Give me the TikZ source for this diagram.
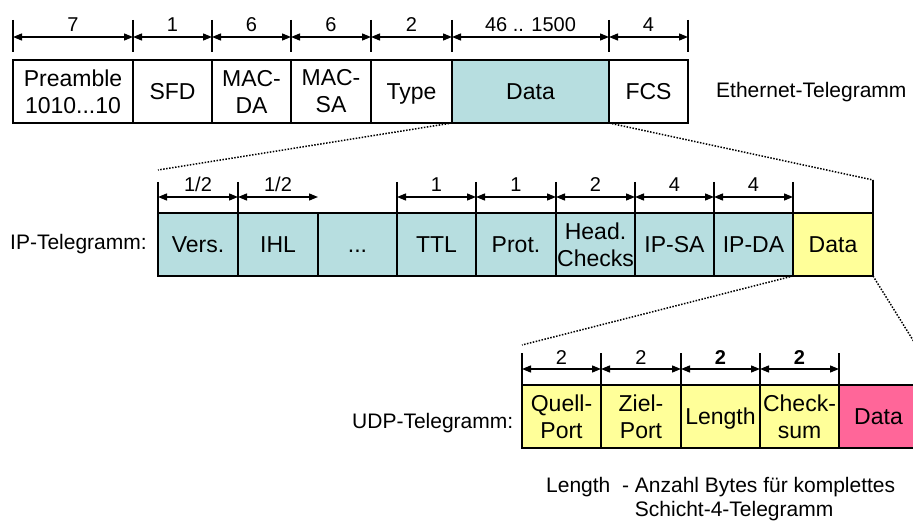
\documentclass[tikz,border=0pt]{standalone}
\usepackage{fontspec}
\setmainfont{Liberation Sans}
\usetikzlibrary{arrows.meta}

\definecolor{ipblue}{RGB}{183,222,224}
\definecolor{udpyellow}{RGB}{255,255,153}
\definecolor{datapink}{RGB}{255,102,153}

\tikzset{
  field/.style={draw=black, line width=2pt, anchor=north west, inner sep=0pt,
    outer sep=0pt, minimum height=63pt, align=center,
    font=\fontsize{23}{27}\selectfont},
  oneline/.style={text height=16.5pt, text depth=0pt},
  tick/.style={line width=1.8pt},
  dim/.style={line width=1.3pt,
    {Triangle[length=9pt,width=7pt]}-{Triangle[length=9pt,width=7pt]}},
  size/.style={anchor=base, yshift=5pt, inner sep=0pt,
    font=\fontsize{20}{24}\selectfont},
  caption/.style={anchor=base west, inner sep=0pt,
    font=\fontsize{21}{24}\selectfont},
  zoomline/.style={line width=1.5pt, dash pattern=on 1.5pt off 1.5pt},
}

\begin{document}
\begin{tikzpicture}[x=1pt,y=-1pt]
\useasboundingbox (0,0) rectangle (913,521);
\clip (0,0) rectangle (913,521);

% ---------------- Ethernet frame ----------------
\node[field, minimum width=120pt]          (pre)  at (13,60)  {Preamble\\1010...10};
\node[field, oneline, minimum width=79pt]  (sfd)  at (133,60) {SFD};
\node[field, minimum width=79pt]           (mda)  at (212,60) {MAC-\\DA};
\node[field, minimum width=80pt]           (msa)  at (291,60) {MAC-\\SA};
\node[field, oneline, minimum width=81pt]  (type) at (371,60) {Type};
\node[field, oneline, minimum width=157pt, fill=ipblue] (eth-data) at (452,60) {Data};
\node[field, oneline, minimum width=79pt]  (fcs)  at (609,60) {FCS};
\node[caption] (eth-label) at (716,98) {Ethernet-Telegramm};

\foreach \x [count=\i] in {13,133,212,291,371,452,609,688} {
  \coordinate (e\i) at (\x,37);
  \draw[tick] (\x,20) -- (\x,52);
}
\draw[dim] (e1) -- node[size] {7} (e2);
\draw[dim] (e2) -- node[size] {1} (e3);
\draw[dim] (e3) -- node[size] {6} (e4);
\draw[dim] (e4) -- node[size] {6} (e5);
\draw[dim] (e5) -- node[size] {2} (e6);
\draw[dim] (e6) -- node[size] {46 .. 1500} (e7);
\draw[dim] (e7) -- node[size] {4} (e8);

% ---------------- IP packet ----------------
\node[caption] (ip-label) at (10,250) {IP-Telegramm:};
\node[field, oneline, minimum width=80pt, fill=ipblue] (vers) at (158,213) {Vers.};
\node[field, oneline, minimum width=80pt, fill=ipblue] (ihl)  at (238,213) {IHL};
\node[field, oneline, minimum width=79pt, fill=ipblue] (more) at (318,213) {...};
\node[field, oneline, minimum width=79pt, fill=ipblue] (ttl)  at (397,213) {TTL};
\node[field, oneline, minimum width=80pt, fill=ipblue] (prot) at (476,213) {Prot.};
\node[field, minimum width=79pt, fill=ipblue]          (hcs)  at (556,213) {Head.\\Checks};
\node[field, oneline, minimum width=79pt, fill=ipblue] (ipsa) at (635,213) {IP-SA};
\node[field, oneline, minimum width=79pt, fill=ipblue] (ipda) at (714,213) {IP-DA};
\node[field, oneline, minimum width=80pt, fill=udpyellow] (ip-data) at (793,213) {Data};

\foreach \x [count=\i] in {158,238,397,476,556,635,714,793} {
  \coordinate (p\i) at (\x,197);
  \draw[tick] (\x,182) -- (\x,213);
}
\coordinate (ihl-end) at (318,197);
\coordinate (ip-top-left) at (158,170);
\coordinate (ip-top-right) at (873,180);
\draw[tick] (ip-top-right) -- (873,213);

\draw[dim] (p1) -- node[size] {1/2} (p2);
\draw[dim] (p2) -- node[size] {1/2} (ihl-end);
\draw[dim] (p3) -- node[size] {1} (p4);
\draw[dim] (p4) -- node[size] {1} (p5);
\draw[dim] (p5) -- node[size] {2} (p6);
\draw[dim] (p6) -- node[size] {4} (p7);
\draw[dim] (p7) -- node[size] {4} (p8);

\draw[zoomline] (eth-data.south west) -- (ip-top-left);
\draw[zoomline] (eth-data.south east) -- (ip-top-right);

% ---------------- UDP datagram ----------------
\node[caption] (udp-label) at (352,428) {UDP-Telegramm:};
\node[field, minimum width=79pt, fill=udpyellow]          (qport) at (522,385) {Quell-\\Port};
\node[field, minimum width=80pt, fill=udpyellow]          (zport) at (601,385) {Ziel-\\Port};
\node[field, oneline, minimum width=79pt, fill=udpyellow] (len)   at (681,385) {Length};
\node[field, minimum width=79pt, fill=udpyellow]          (csum)  at (760,385) {Check-\\sum};
\node[field, oneline, minimum width=79pt, fill=datapink]  (udp-data) at (839,385) {Data};

\foreach \x [count=\i] in {522,601,681,760,839} {
  \coordinate (u\i) at (\x,369);
  \draw[tick] (\x,353) -- (\x,385);
}
\draw[dim] (u1) -- node[size] {2} (u2);
\draw[dim] (u2) -- node[size] {2} (u3);
\draw[dim] (u3) -- node[size] {\textbf{2}} (u4);
\draw[dim] (u4) -- node[size] {\textbf{2}} (u5);

\coordinate (udp-top-left) at (522,345);
\coordinate (udp-top-right) at (916,345);
\draw[zoomline] (ip-data.south west) -- (udp-top-left);
\draw[zoomline] (ip-data.south east) -- (udp-top-right);

% ---------------- Note ----------------
\node[caption] (note) at (546,492) {%
  \begin{tabular}[t]{@{}l@{}l@{}}
    Length\ \ -\ \null & Anzahl Bytes für komplettes\\
                       & Schicht-4-Telegramm
  \end{tabular}};
\end{tikzpicture}
\end{document}
